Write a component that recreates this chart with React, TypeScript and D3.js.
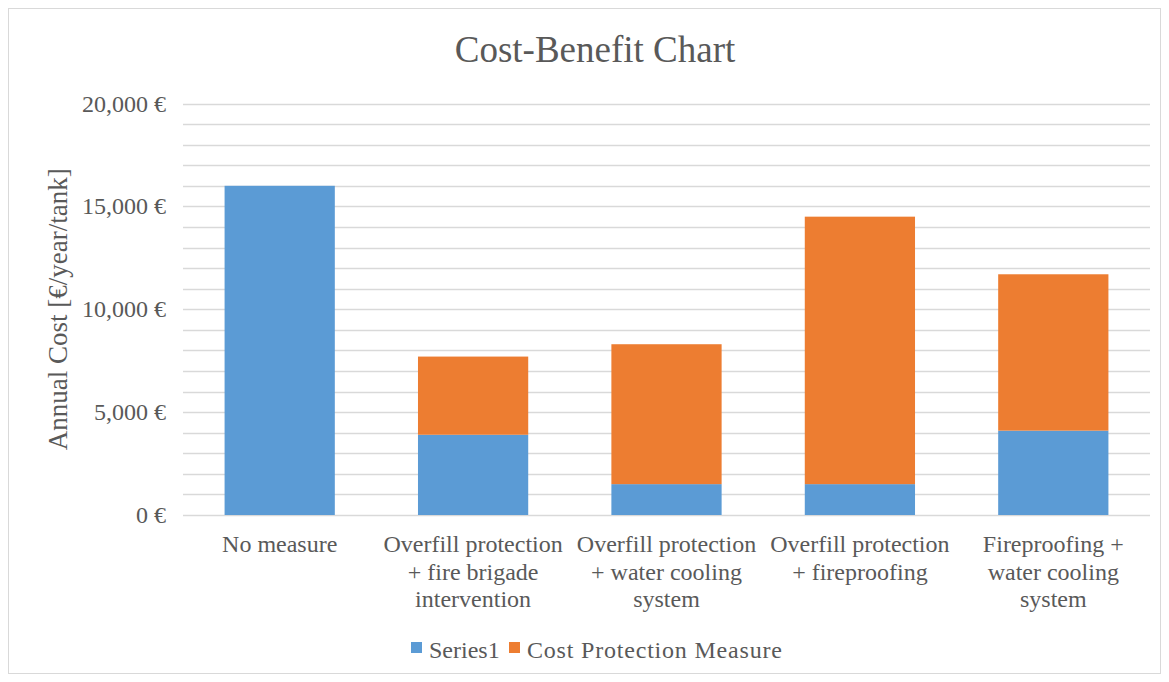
import React from "react";
import * as d3 from "d3";

const categories: string[][] = [
  ["No measure"],
  ["Overfill protection", "+ fire brigade", "intervention"],
  ["Overfill protection", "+ water cooling", "system"],
  ["Overfill protection", "+ fireproofing"],
  ["Fireproofing +", "water cooling", "system"],
];
const series1: number[] = [16000, 3900, 1500, 1500, 4100];
const costProtection: number[] = [0, 3800, 6800, 13000, 7600];
const seriesNames: string[] = ["Series1", "Cost Protection Measure"];
const seriesColors: string[] = ["#5B9BD5", "#ED7D31"];
const majorTicks: number[] = [0, 5000, 10000, 15000, 20000];

const W = 1169;
const H = 682;
const FONT = "'Liberation Serif', 'Times New Roman', serif";
const TEXT = "#595959";

export default function App() {
  const margin = { left: 183, right: 1150, top: 103.5, bottom: 515 };
  const x = d3
    .scaleBand<number>()
    .domain(categories.map((_, i) => i))
    .range([margin.left, margin.right])
    .paddingInner(0.43)
    .paddingOuter(0.215);
  const y = d3.scaleLinear().domain([0, 20000]).range([margin.bottom, margin.top]);
  const gridVals = d3.range(0, 20001, 1000);
  const fmt = d3.format(",");

  const stackData = categories.map((_, i) => ({ s1: series1[i], s2: costProtection[i] }));
  const stacked = d3.stack<{ s1: number; s2: number }>().keys(["s1", "s2"])(stackData);

  return (
    <svg width={W} height={H} style={{ position: "absolute", left: 0, top: 0 }}>
      <rect x={0} y={0} width={W} height={H} fill="#ffffff" />
      <rect x={8.5} y={8.5} width={1152} height={665} fill="#ffffff" stroke="#d9d9d9" strokeWidth={1} />
      <text x={595} y={62} textAnchor="middle" fontFamily={FONT} fontSize={37} fill={TEXT}>
        Cost-Benefit Chart
      </text>

      {gridVals.map((v) => (
        <line
          key={v}
          x1={margin.left}
          x2={margin.right}
          y1={Math.round(y(v)) + 0.5}
          y2={Math.round(y(v)) + 0.5}
          stroke="#d9d9d9"
          strokeWidth={1.5}
        />
      ))}

      {majorTicks.map((v) => (
        <text
          key={v}
          x={166}
          y={y(v) + 8}
          textAnchor="end"
          fontFamily={FONT}
          fontSize={24}
          fill={TEXT}
        >
          {`${fmt(v)} €`}
        </text>
      ))}

      <text
        transform={`translate(67, ${(margin.top + margin.bottom) / 2}) rotate(-90)`}
        textAnchor="middle"
        fontFamily={FONT}
        fontSize={27}
        fill={TEXT}
      >
        Annual Cost [€/year/tank]
      </text>

      {stacked.map((layer, li) =>
        layer.map((d, i) =>
          d[1] - d[0] > 0 ? (
            <rect
              key={`${li}-${i}`}
              x={x(i)!}
              y={y(d[1])}
              width={x.bandwidth()}
              height={y(d[0]) - y(d[1])}
              fill={seriesColors[li]}
            />
          ) : null
        )
      )}

      {categories.map((lines, i) => (
        <text
          key={i}
          textAnchor="middle"
          fontFamily={FONT}
          fontSize={24}
          fill={TEXT}
        >
          {lines.map((ln, j) => (
            <tspan key={j} x={x(i)! + x.bandwidth() / 2} y={552 + j * 27.5}>
              {ln}
            </tspan>
          ))}
        </text>
      ))}

      {seriesNames.map((name, i) => {
        const lx = i === 0 ? 411 : 509;
        return (
          <g key={name}>
            <rect x={lx} y={642} width={11} height={11} fill={seriesColors[i]} />
            <text
              x={lx + 18}
              y={658}
              fontFamily={FONT}
              fontSize={24}
              letterSpacing={i === 0 ? 0 : 0.8}
              fill={TEXT}
            >
              {name}
            </text>
          </g>
        );
      })}
    </svg>
  );
}
